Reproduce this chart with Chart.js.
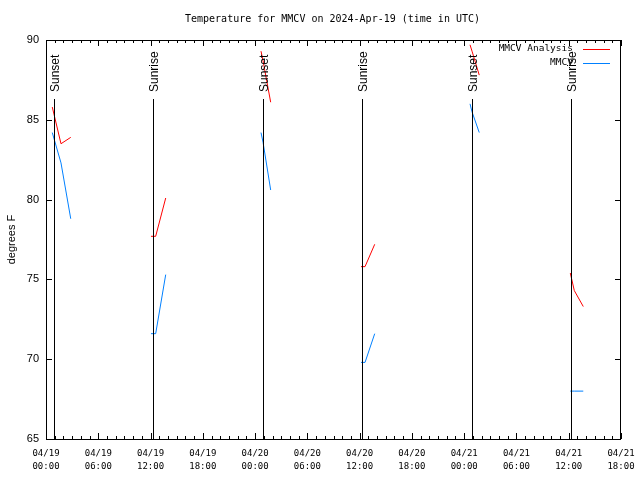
<!DOCTYPE html>
<html>
<head>
<meta charset="utf-8">
<script src="https://cdn.jsdelivr.net/npm/chart.js@4.4.1/dist/chart.umd.min.js"></script>
<style>
  body { margin: 0; background: #fff; }
  canvas { display: block; }
</style>
</head>
<body>
<canvas id="chart" width="640" height="480"></canvas>
<script>
// data (hours since 04/19 00:00 UTC)
const seriesNames = ['MMCV Analysis', 'MMCV'];
const seriesColors = ['#ff0000', '#0080ff'];
const segTimes = [
    [0.72, 1.72, 2.84],
    [12.05, 12.59, 13.74],
    [24.68, 24.91, 25.79],
    [36.16, 36.62, 37.73],
    [48.67, 48.9, 49.73],
    [60.18, 60.64, 61.67]
];
const analysisTemps = [
    [85.8, 83.5, 83.9],
    [77.7, 77.7, 80.1],
    [89.3, 88.7, 86.1],
    [75.8, 75.8, 77.2],
    [89.7, 89.3, 87.8],
    [75.4, 74.3, 73.3]
];
const obsTemps = [
    [84.2, 82.3, 78.8],
    [71.6, 71.6, 75.3],
    [84.2, 83.6, 80.6],
    [69.8, 69.8, 71.6],
    [86.0, 85.5, 84.2],
    [68.0, 68.0, 68.0]
];
const sunTimes = [0.92, 12.32, 24.91, 36.31, 48.9, 60.3];
const sunLabels = ['Sunset', 'Sunrise', 'Sunset', 'Sunrise', 'Sunset', 'Sunrise'];
const xTicks = [0, 6, 12, 18, 24, 30, 36, 42, 48, 54, 60, 66];
const yTicks = [65, 70, 75, 80, 85, 90];
const titleText = 'Temperature for MMCV on 2024-Apr-19 (time in UTC)';

// one dataset per segment so the gaps stay open
const datasets = [];
[analysisTemps, obsTemps].forEach((temps, s) => {
    temps.forEach((seg, i) => {
        datasets.push({
            label: seriesNames[s],
            data: seg.map((v, j) => ({ x: segTimes[i][j], y: v })),
            borderColor: seriesColors[s],
            borderWidth: 1,
            pointRadius: 0,
            tension: 0,
            fill: false
        });
    });
});

// frame, inward ticks, sun lines, title and legend
const gnuplotBits = {
    id: 'gnuplotBits',
    afterDatasetsDraw(chart) {
        const ctx = chart.ctx;
        const a = chart.chartArea;
        const xs = chart.scales.x, ys = chart.scales.y;
        ctx.save();
        ctx.strokeStyle = '#000';
        ctx.lineWidth = 1;

        // sunrise / sunset lines
        sunTimes.forEach((t, i) => {
            const px = Math.round(xs.getPixelForValue(t)) + 0.5;
            ctx.beginPath();
            ctx.moveTo(px, a.top + 59);
            ctx.lineTo(px, a.bottom);
            ctx.stroke();
            ctx.save();
            ctx.translate(px + 1.5, a.top + 52);
            ctx.rotate(-Math.PI / 2);
            ctx.fillStyle = '#000';
            ctx.font = '12px "Liberation Sans", Arial, sans-serif';
            ctx.textAlign = 'left';
            ctx.textBaseline = 'middle';
            ctx.fillText(sunLabels[i], 0, 0);
            ctx.restore();
        });

        // frame
        ctx.strokeRect(a.left + 0.5, a.top + 0.5, a.right - a.left - 1, a.bottom - a.top);

        // x ticks every hour, longer every 6
        ctx.beginPath();
        for (let h = 0; h <= 66; h++) {
            const px = Math.round(xs.getPixelForValue(h)) + 0.5;
            const len = h % 6 === 0 ? 6 : 3;
            ctx.moveTo(px, a.bottom);
            ctx.lineTo(px, a.bottom - len);
            ctx.moveTo(px, a.top);
            ctx.lineTo(px, a.top + len);
        }
        yTicks.forEach(v => {
            const py = Math.round(ys.getPixelForValue(v)) + 0.5;
            ctx.moveTo(a.left, py);
            ctx.lineTo(a.left + 6, py);
            ctx.moveTo(a.right, py);
            ctx.lineTo(a.right - 6, py);
        });
        ctx.stroke();

        // title
        ctx.fillStyle = '#000';
        ctx.font = '10px "DejaVu Sans Mono", monospace';
        ctx.textAlign = 'center';
        ctx.textBaseline = 'middle';
        ctx.fillText(titleText, (a.left + a.right) / 2 - 1, 19);

        // legend
        ctx.font = '9.5px "DejaVu Sans Mono", monospace';
        ctx.textAlign = 'right';
        seriesNames.forEach((name, i) => {
            const y = 49 + i * 14;
            ctx.fillStyle = '#000';
            ctx.fillText(name, 573, y);
            ctx.strokeStyle = seriesColors[i];
            ctx.beginPath();
            ctx.moveTo(583, y + 0.5);
            ctx.lineTo(610, y + 0.5);
            ctx.stroke();
        });
        ctx.restore();
    }
};

new Chart(document.getElementById('chart'), {
    type: 'line',
    data: { datasets: datasets },
    options: {
        responsive: false,
        animation: false,
        layout: { padding: { top: 40, right: 19, left: 0, bottom: 0 } },
        plugins: {
            legend: { display: false },
            tooltip: { enabled: false }
        },
        scales: {
            x: {
                type: 'linear',
                min: 0,
                max: 66,
                offset: false,
                afterFit: s => { s.height = 41; s.paddingLeft = 0; s.paddingRight = 0; },
                afterBuildTicks: s => { s.ticks = xTicks.map(v => ({ value: v })); },
                grid: { display: false, drawTicks: false },
                border: { display: false },
                ticks: {
                    autoSkip: false,
                    maxRotation: 0,
                    padding: 8,
                    color: '#000',
                    font: { family: '"DejaVu Sans Mono", monospace', size: 9, lineHeight: 1.45 },
                    callback: v => {
                        const day = 19 + Math.floor(v / 24);
                        const hh = String(v % 24).padStart(2, '0');
                        return ['04/' + day, hh + ':00'];
                    }
                }
            },
            y: {
                min: 65,
                max: 90,
                afterFit: s => { s.width = 46; s.paddingTop = 0; s.paddingBottom = 0; },
                afterBuildTicks: s => { s.ticks = yTicks.map(v => ({ value: v })); },
                grid: { display: false, drawTicks: false },
                border: { display: false },
                title: {
                    display: true,
                    text: 'degrees F',
                    color: '#000',
                    padding: { top: 5, bottom: 0 },
                    font: { family: '"Liberation Sans", Arial, sans-serif', size: 11 }
                },
                ticks: {
                    padding: 7,
                    color: '#000',
                    font: { family: '"Liberation Sans", Arial, sans-serif', size: 11 }
                }
            }
        }
    },
    plugins: [gnuplotBits]
});
</script>
</body>
</html>
